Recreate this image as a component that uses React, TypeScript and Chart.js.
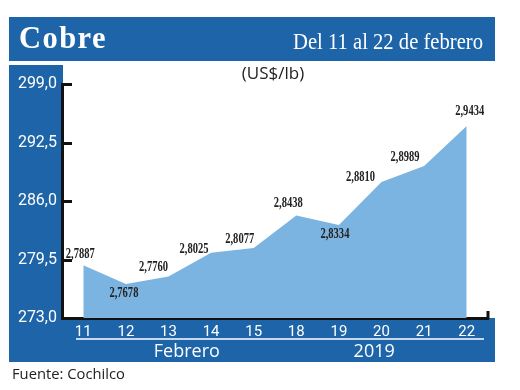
import React, { useEffect, useRef } from "react";
import { Chart, registerables } from "chart.js";

Chart.register(...registerables);

// ---- data ----
const days: string[] = ["11", "12", "13", "14", "15", "18", "19", "20", "21", "22"];
const pricesCents: number[] = [278.87, 276.78, 277.6, 280.25, 280.77, 284.38, 283.34, 288.1, 289.89, 294.34];
const yTickValues: number[] = [273.0, 279.5, 286.0, 292.5, 299.0];
const titleText = "Cobre";
const subtitleText = "Del 11 al 22 de febrero";
const unitText = "(US$/lb)";
const monthText = "Febrero";
const yearText = "2019";
const sourceText = "Fuente: Cochilco";

// ---- layout (label placement relative to each point) ----
const labelOffsets: [number, number][] = [
  [-3, -11], [-2, 9], [-15, -9], [-17, -3], [-14, -9],
  [-8, -12], [-4, 9], [-21, -5], [-19, -9], [3, -15],
];

const BLUE = "#1d64a8";
const FILL = "#7cb4e1";
const INK = "#222222";

const fmtComma = (v: number, d: number) => v.toFixed(d).replace(".", ",");

const framePlugin = {
  id: "frame",
  beforeDraw(chart: any) {
    const ctx = chart.ctx as CanvasRenderingContext2D;
    const { bottom, left } = chart.chartArea;
    ctx.save();
    ctx.fillStyle = "#ffffff";
    ctx.fillRect(0, 0, chart.width, chart.height);
    ctx.fillStyle = BLUE;
    ctx.fillRect(9, 17, 486, 44); // header
    ctx.fillRect(9, 65, left + 1 - 9, 362 - 65); // left strip
    ctx.fillRect(9, bottom, 486, 362 - bottom); // bottom band
    ctx.restore();
  },
  afterDraw(chart: any) {
    const ctx = chart.ctx as CanvasRenderingContext2D;
    const { left, right, bottom } = chart.chartArea;
    const yScale = chart.scales.y;
    const xScale = chart.scales.x;
    ctx.save();

    // inward y ticks
    ctx.strokeStyle = "#111";
    ctx.lineWidth = 3;
    yTickValues.forEach((v) => {
      const py = Math.round(yScale.getPixelForValue(v)) + 0.5;
      ctx.beginPath();
      ctx.moveTo(left, py);
      ctx.lineTo(left + 10, py);
      ctx.stroke();
    });
    // right end tick on x-axis
    ctx.beginPath();
    ctx.moveTo(right, bottom + 1);
    ctx.lineTo(right, bottom - 7);
    ctx.stroke();

    // header texts
    ctx.fillStyle = "#ffffff";
    ctx.textBaseline = "alphabetic";
    ctx.textAlign = "left";
    ctx.font = "bold 32px 'Liberation Serif', serif";
    (ctx as any).letterSpacing = "1.5px";
    ctx.fillText(titleText, 19, 48, 88);
    (ctx as any).letterSpacing = "0px";
    ctx.textAlign = "right";
    ctx.font = "24px 'Liberation Serif', serif";
    ctx.fillText(subtitleText, 483, 49, 190);

    // unit
    ctx.fillStyle = INK;
    ctx.textAlign = "center";
    ctx.font = "17px 'Open Sans', sans-serif";
    ctx.fillText(unitText, 273, 79, 70);

    // data labels
    ctx.font = "bold 14px 'Liberation Serif', serif";
    ctx.textBaseline = "middle";
    ctx.fillStyle = INK;
    const meta = chart.getDatasetMeta(0);
    meta.data.forEach((pt: any, i: number) => {
      const [dx, dy] = labelOffsets[i];
      ctx.fillText(fmtComma(pricesCents[i] / 100, 4), pt.x + dx, pt.y + dy, 29);
    });

    // separator line & month/year
    ctx.strokeStyle = "#ffffff";
    ctx.lineWidth = 1.5;
    ctx.beginPath();
    ctx.moveTo(76, 339);
    ctx.lineTo(484, 339);
    ctx.stroke();
    ctx.fillStyle = "#ffffff";
    ctx.textBaseline = "alphabetic";
    ctx.font = "18px 'Open Sans', sans-serif";
    const xMonth = (xScale.getPixelForValue(2) + xScale.getPixelForValue(3)) / 2 - 3;
    const xYear = (xScale.getPixelForValue(6) + xScale.getPixelForValue(7)) / 2 + 14;
    ctx.fillText(monthText, xMonth, 357, 66);
    ctx.fillText(yearText, xYear, 357, 43);

    // source
    ctx.fillStyle = INK;
    ctx.textAlign = "left";
    ctx.font = "15px 'Open Sans', sans-serif";
    ctx.fillText(sourceText, 12, 379, 113);
    ctx.restore();
  },
};

export default function App() {
  const ref = useRef<HTMLCanvasElement | null>(null);
  useEffect(() => {
    if (!ref.current) return;
    const chart = new Chart(ref.current, {
      type: "line",
      data: {
        labels: days,
        datasets: [
          {
            data: pricesCents,
            fill: "start",
            backgroundColor: FILL,
            borderWidth: 0,
            borderColor: FILL,
            pointRadius: 0,
            tension: 0,
          },
        ],
      },
      options: {
        responsive: false,
        devicePixelRatio: 1,
        animation: false,
        layout: { padding: { left: 8, right: 32, top: 84, bottom: 0 } },
        plugins: { legend: { display: false }, tooltip: { enabled: false } },
        scales: {
          x: {
            type: "category",
            offset: true,
            z: 1,
            border: { display: true, color: "#111", width: 3 },
            grid: { display: false, drawTicks: false },
            ticks: {
              color: "#ffffff",
              font: { family: "Roboto, sans-serif", size: 15 },
              padding: 5,
              maxRotation: 0,
              autoSkip: false,
            },
            afterFit(scale: any) {
              scale.height = 72;
            },
          },
          y: {
            min: 273,
            max: 299,
            z: 1,
            border: { display: true, color: "#111", width: 3 },
            grid: { display: false, drawTicks: false },
            afterBuildTicks(scale: any) {
              scale.ticks = yTickValues.map((v) => ({ value: v }));
            },
            ticks: {
              color: "#ffffff",
              font: { family: "Roboto, sans-serif", size: 16 },
              padding: 5,
              callback: (v: any) => fmtComma(Number(v), 1),
            },
            afterFit(scale: any) {
              scale.width = 54;
            },
          },
        },
      },
      plugins: [framePlugin],
    } as any);
    return () => chart.destroy();
  }, []);
  return (
    <div style={{ position: "fixed", left: 0, top: 0, width: 520, height: 390 }}>
      <canvas ref={ref} width={520} height={390} style={{ display: "block" }} />
    </div>
  );
}
